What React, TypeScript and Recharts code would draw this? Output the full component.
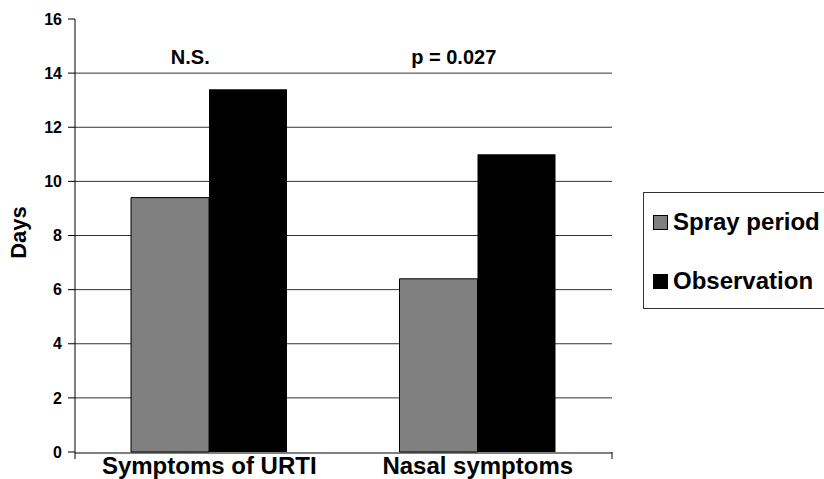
import {
  Bar,
  BarChart,
  CartesianGrid,
  Legend,
  ReferenceDot,
  XAxis,
  YAxis,
} from "recharts";

const categories = ["Symptoms of URTI", "Nasal symptoms"];
const seriesNames = ["Spray period", "Observation"];
const sprayPeriod = [9.4, 6.4];
const observation = [13.4, 11.0];
const yTicks = [0, 2, 4, 6, 8, 10, 12, 14, 16];
const gridValues = [2, 4, 6, 8, 10, 12, 14];
const edgeTicks = [0, 1, 2];
const significance = ["N.S.", "p = 0.027"];
const significanceLevel = 14.6;

const data = categories.map((name, i) => ({
  name,
  spray: sprayPeriod[i],
  observation: observation[i],
}));

const font = "'Liberation Sans', Arial, Helvetica, sans-serif";
const labelShift = [-19, -24];

function LegendBox(props: any) {
  const items = [...(props.payload ?? [])].sort(
    (a: any, b: any) => seriesNames.indexOf(a.value) - seriesNames.indexOf(b.value)
  );
  return (
    <div
      style={{
        width: 183,
        height: 117,
        boxSizing: "border-box",
        border: "1px solid #333",
        background: "#fff",
        position: "relative",
        fontFamily: font,
        fontWeight: 700,
        fontSize: 24,
        color: "#000",
      }}
    >
      {items.map((item: any, i: number) => (
        <div
          key={item.value}
          style={{
            position: "absolute",
            left: 9,
            top: 14 + i * 59,
            height: 30,
            display: "flex",
            alignItems: "center",
            whiteSpace: "nowrap",
          }}
        >
          <span
            style={{
              display: "inline-block",
              width: 15,
              height: 15,
              boxSizing: "border-box",
              border: "1px solid #000",
              background: item.color,
              marginRight: 5,
            }}
          />
          {item.value}
        </div>
      ))}
    </div>
  );
}

export default function App() {
  return (
    <div style={{ position: "absolute", left: 0, top: 0, background: "#fff" }}>
      <BarChart
        width={824}
        height={479}
        data={data}
        barGap={0}
        margin={{ top: 19, right: 29, bottom: 25, left: 0 }}
      >
        <CartesianGrid
          vertical={false}
          horizontalValues={gridValues}
          stroke="#333"
          strokeWidth={1}
        />
        <XAxis
          xAxisId={0}
          type="number"
          domain={[0, 2]}
          ticks={edgeTicks}
          axisLine={false}
          tickSize={7}
          height={1}
          stroke="#000"
          tickFormatter={() => ""}
        />
        <XAxis
          xAxisId={1}
          dataKey="name"
          height={1}
          interval={0}
          tickLine={false}
          tickSize={0}
          tickMargin={4}
          axisLine={{ stroke: "#000" }}
          tick={{ fill: "#000", fontSize: 24, fontWeight: 700, fontFamily: font }}
        />
        <YAxis
          domain={[0, 16]}
          ticks={yTicks}
          width={75}
          tickSize={7}
          tickMargin={6}
          stroke="#000"
          tick={{ fill: "#000", fontSize: 16, fontWeight: 700, fontFamily: font }}
          label={{
            value: "Days",
            angle: -90,
            position: "center",
            dx: -19,
            dy: -3,
            fill: "#000",
            fontSize: 22,
            fontWeight: 700,
            fontFamily: font,
          }}
        />
        <Legend
          layout="vertical"
          align="right"
          verticalAlign="middle"
          content={LegendBox}
          wrapperStyle={{ left: 643, top: 192, right: "auto", width: 183 }}
        />
        <Bar
          xAxisId={1}
          dataKey="spray"
          name={seriesNames[0]}
          fill="#808080"
          stroke="#000"
          strokeWidth={1}
          barSize={78}
          isAnimationActive={false}
        />
        <Bar
          xAxisId={1}
          dataKey="observation"
          name={seriesNames[1]}
          fill="#000"
          barSize={78}
          isAnimationActive={false}
        />
        {significance.map((text, i) => (
          <ReferenceDot
            key={text}
            xAxisId={1}
            x={categories[i]}
            y={significanceLevel}
            r={0}
            fill="none"
            stroke="none"
            label={{
              value: text,
              dx: labelShift[i],
              fill: "#000",
              fontSize: 20,
              fontWeight: 700,
              fontFamily: font,
            }}
          />
        ))}
      </BarChart>
    </div>
  );
}
